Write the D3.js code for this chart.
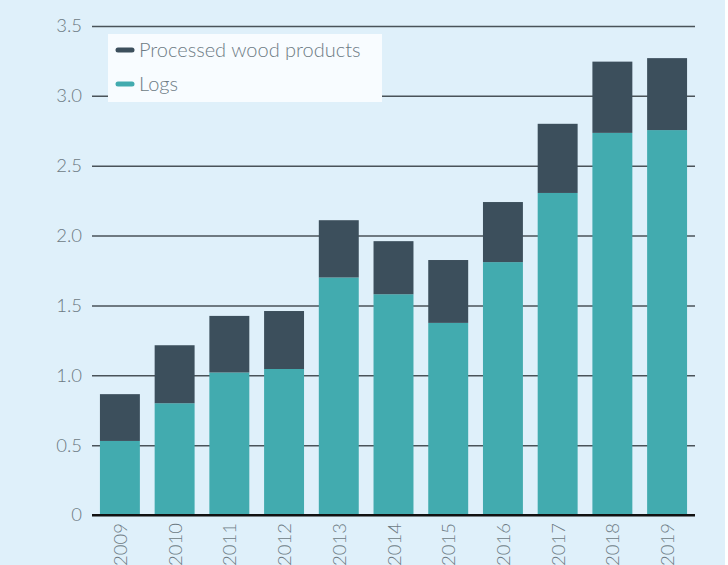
<!DOCTYPE html>
<html>
<head>
<meta charset="utf-8">
<script src="https://cdn.jsdelivr.net/npm/d3@7"></script>
<style>
  body { margin: 0; background: #ffffff; }
  svg { display: block; }
</style>
</head>
<body>
<div id="chart"></div>
<script>
const years = ["2009", "2010", "2011", "2012", "2013", "2014", "2015", "2016", "2017", "2018", "2019"];
const logs = [0.53, 0.80, 1.02, 1.045, 1.70, 1.58, 1.375, 1.81, 2.305, 2.735, 2.755];
const processed = [0.335, 0.415, 0.405, 0.415, 0.41, 0.38, 0.45, 0.43, 0.495, 0.51, 0.515];
const yTicks = [0, 0.5, 1.0, 1.5, 2.0, 2.5, 3.0, 3.5];
const seriesNames = ["Processed wood products", "Logs"];

const width = 728, height = 565;
const margin = {top: 26, right: 33, bottom: 50, left: 92};
const innerW = width - margin.left - margin.right,
      innerH = height - margin.top - margin.bottom;

const colors = {"Logs": "#42abaf", "Processed wood products": "#3c4f5c"};
const fontFam = "Lato, 'Open Sans', sans-serif";

const svg = d3.select("#chart").append("svg")
    .attr("width", width)
    .attr("height", height);

svg.append("rect")
    .attr("width", 725).attr("height", height)
    .attr("fill", "#dff0fa");

const g = svg.append("g")
    .attr("transform", `translate(${margin.left},${margin.top})`);

const x = d3.scaleBand()
    .domain(years)
    .range([0, innerW])
    .paddingInner(0.27)
    .paddingOuter(0.145);

const y = d3.scaleLinear()
    .domain([0, 3.5])
    .range([innerH, 0]);

// grid lines + y labels
const yAxis = g.append("g")
    .call(d3.axisLeft(y).tickValues(yTicks).tickSize(-innerW).tickPadding(10)
        .tickFormat(d => d === 0 ? "0" : d3.format(".1f")(d)));
yAxis.select(".domain").remove();
yAxis.selectAll(".tick line")
    .attr("stroke", d => d === 0 ? "#111" : "#4a5359")
    .attr("stroke-width", d => d === 0 ? 2 : 1.5);
yAxis.selectAll(".tick text")
    .attr("fill", "#6d7b84")
    .attr("font-size", "18.5px")
    .attr("font-weight", 300)
    .attr("font-family", fontFam);

// stacked bars
const table = years.map((yr, i) => ({year: yr, "Logs": logs[i], "Processed wood products": processed[i]}));
const stacked = d3.stack().keys(["Logs", "Processed wood products"])(table);

g.selectAll("g.series")
    .data(stacked)
    .join("g")
    .attr("class", "series")
    .attr("fill", d => colors[d.key])
    .selectAll("rect")
    .data(d => d)
    .join("rect")
    .attr("x", d => x(d.data.year))
    .attr("width", x.bandwidth())
    .attr("y", d => y(d[1]))
    .attr("height", d => y(d[0]) - y(d[1]));

// x labels
const xAxis = g.append("g")
    .attr("transform", `translate(0,${innerH})`)
    .call(d3.axisBottom(x).tickSize(0).tickPadding(0));
xAxis.select(".domain").remove();
xAxis.selectAll(".tick text")
    .attr("transform", "rotate(-90)")
    .attr("text-anchor", "end")
    .attr("dominant-baseline", "central")
    .attr("x", -8)
    .attr("y", 0)
    .attr("dy", null)
    .attr("fill", "#6d7b84")
    .attr("font-size", "18.5px")
    .attr("font-weight", 300)
    .attr("font-family", fontFam);

// baseline on top
g.append("line")
    .attr("x1", 0).attr("x2", innerW)
    .attr("y1", y(0)).attr("y2", y(0))
    .attr("stroke", "#111").attr("stroke-width", 2);

// legend
const legend = svg.append("g").attr("transform", "translate(108,34)");
legend.append("rect")
    .attr("width", 274).attr("height", 68)
    .attr("fill", "#f8fcff");
const items = legend.selectAll("g.item")
    .data(seriesNames)
    .join("g")
    .attr("class", "item")
    .attr("transform", (d, i) => `translate(0,${16 + i * 34})`);
items.append("line")
    .attr("x1", 10).attr("x2", 24)
    .attr("stroke", d => colors[d])
    .attr("stroke-width", 5)
    .attr("stroke-linecap", "round");
items.append("text")
    .attr("x", 31)
    .attr("dy", "0.35em")
    .attr("fill", "#6d7b84")
    .attr("font-size", "20px")
    .attr("font-weight", 300)
    .attr("font-family", fontFam)
    .text(d => d);
</script>
</body>
</html>
